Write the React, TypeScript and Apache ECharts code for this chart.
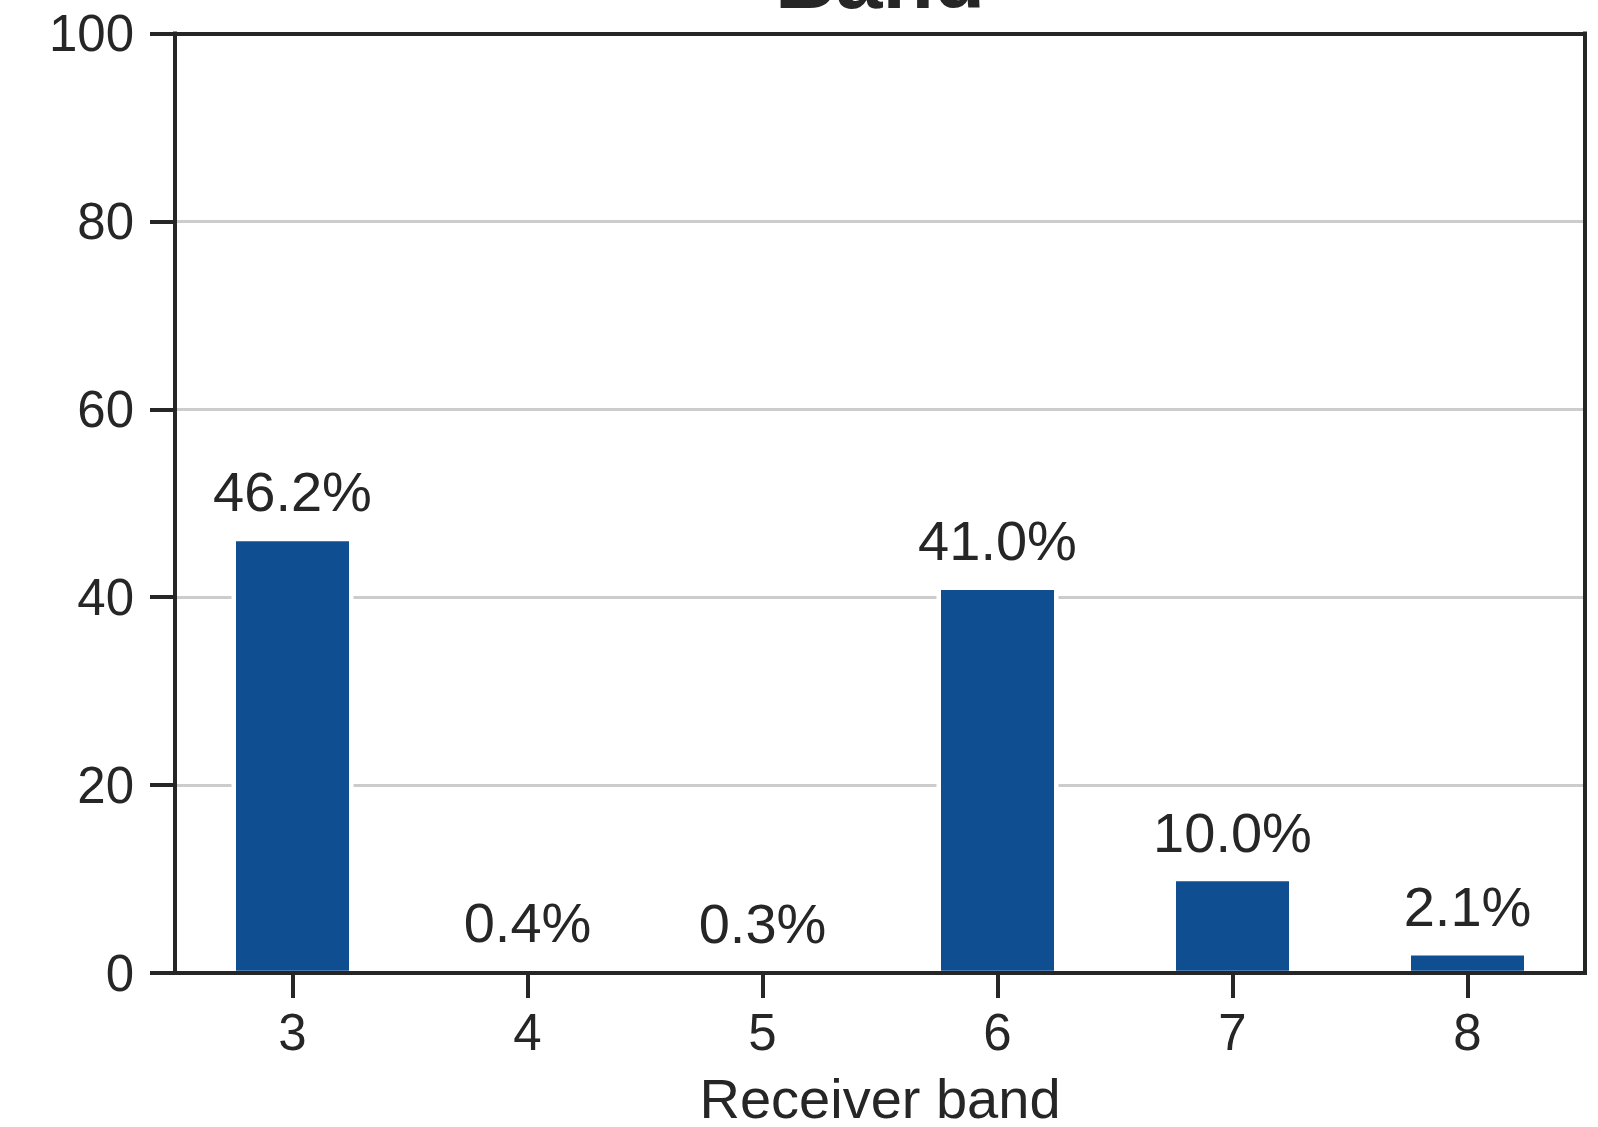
import React, { useEffect, useRef } from "react";
import * as echarts from "echarts";

const titleText = "Band";
const xAxisName = "Receiver band";
const categories = ["3", "4", "5", "6", "7", "8"];
const percentValues = [46.2, 0.4, 0.3, 41.0, 10.0, 2.1];
const yMin = 0;
const yMax = 100;
const yInterval = 20;

const FONT = "'Liberation Sans', Arial, Helvetica, sans-serif";
const INK = "#262626";
const BAR = "#0f4e91";
const BAR_FRACTION = 0.5;

export default function App() {
  const ref = useRef<HTMLDivElement>(null);
  useEffect(() => {
    if (!ref.current) return;
    const chart = echarts.init(ref.current, null, { renderer: "svg" });
    const lineStyle = { color: INK, width: 4, cap: "square" };
    chart.setOption({
      animation: false,
      backgroundColor: "#ffffff",
      textStyle: { fontFamily: FONT, color: INK },
      grid: {
        left: 175,
        right: 13,
        top: 33.5,
        bottom: 154,
        outerBoundsMode: "none",
        containLabel: false,
        show: false,
      },
      graphic: [
        {
          type: "text",
          x: 880,
          y: -21,
          z: 10,
          style: {
            text: titleText,
            fontFamily: FONT,
            fontWeight: "bold",
            fontSize: 84,
            fill: INK,
            align: "center",
            verticalAlign: "middle",
          },
        },
      ],
      xAxis: [
        {
          type: "category",
          data: categories,
          z: 5,
          name: xAxisName,
          nameLocation: "middle",
          nameGap: 97,
          nameTextStyle: { fontSize: 56, color: INK, fontFamily: FONT, verticalAlign: "top" },
          axisLine: { show: true, onZero: false, lineStyle },
          axisTick: { show: true, alignWithLabel: true, length: 25, lineStyle: { color: INK, width: 4 } },
          axisLabel: { fontSize: 51, color: INK, margin: 34, fontFamily: FONT },
          splitLine: { show: false },
        },
        {
          type: "category",
          data: categories,
          position: "top",
          z: 5,
          axisLine: { show: true, onZero: false, lineStyle },
          axisTick: { show: false },
          axisLabel: { show: false },
          splitLine: { show: false },
        },
      ],
      yAxis: [
        {
          type: "value",
          min: yMin,
          max: yMax,
          interval: yInterval,
          z: 0,
          axisLine: { show: true, onZero: false, lineStyle },
          axisTick: { show: true, length: 25, lineStyle: { color: INK, width: 4 } },
          axisLabel: { fontSize: 51, color: INK, margin: 41, fontFamily: FONT },
          splitLine: { show: true, lineStyle: { color: "#cccccc", width: 3 } },
        },
        {
          type: "value",
          min: yMin,
          max: yMax,
          interval: yInterval,
          position: "right",
          z: 5,
          axisLine: { show: true, onZero: false, lineStyle },
          axisTick: { show: false },
          axisLabel: { show: false },
          splitLine: { show: false },
        },
      ],
      series: [
        {
          type: "bar",
          data: percentValues,
          barWidth: `${BAR_FRACTION * 100}%`,
          z: 2,
          itemStyle: { color: BAR },
          label: {
            show: true,
            position: "top",
            distance: 19,
            fontSize: 56,
            color: INK,
            fontFamily: FONT,
            formatter: (p: any) => `${Number(p.value).toFixed(1)}%`,
          },
        },
        {
          type: "custom",
          z: 3,
          silent: true,
          data: percentValues.map((v, i) => [i, v]),
          encode: { x: 0, y: 1 },
          renderItem: (_params: any, api: any) => {
            const idx = api.value(0);
            const v = api.value(1);
            const top = api.coord([idx, v]);
            const base = api.coord([idx, 0]);
            const band = api.size([1, 0])[0];
            const w = band * BAR_FRACTION;
            return {
              type: "rect",
              shape: { x: top[0] - w / 2, y: top[1], width: w, height: base[1] - top[1] },
              style: { fill: "none", stroke: "#ffffff", lineWidth: 4.5 },
            };
          },
        },
      ],
    });
    return () => chart.dispose();
  }, []);
  return (
    <div
      ref={ref}
      style={{ position: "fixed", left: 0, top: 0, width: 1598, height: 1127, background: "#fff" }}
    />
  );
}
